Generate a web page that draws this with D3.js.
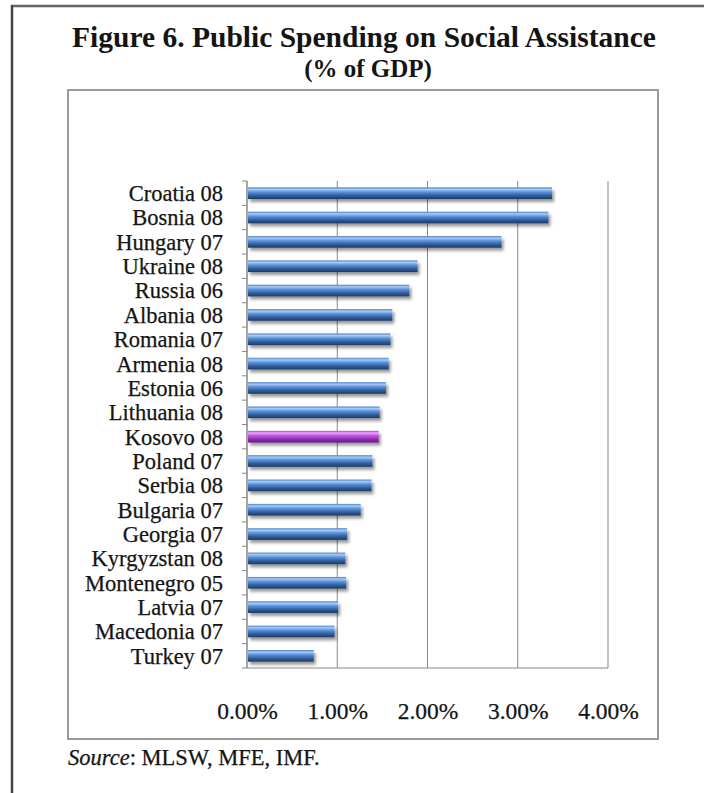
<!DOCTYPE html>
<html>
<head>
<meta charset="utf-8">
<script src="https://cdn.jsdelivr.net/npm/d3@7"></script>
<style>
  html, body { margin: 0; padding: 0; background: #fff; }
  svg { display: block; }
  text { font-family: "Liberation Serif", "Times New Roman", serif; fill: #141414; }
</style>
</head>
<body>
<div id="chart"></div>
<script>
"use strict";

const countries = [
    "Croatia 08", "Bosnia 08", "Hungary 07", "Ukraine 08", "Russia 06",
    "Albania 08", "Romania 07", "Armenia 08", "Estonia 06", "Lithuania 08",
    "Kosovo 08", "Poland 07", "Serbia 08", "Bulgaria 07", "Georgia 07",
    "Kyrgyzstan 08", "Montenegro 05", "Latvia 07", "Macedonia 07", "Turkey 07"
];
const spending = [
    3.38, 3.34, 2.82, 1.89, 1.80,
    1.61, 1.59, 1.57, 1.54, 1.47,
    1.46, 1.39, 1.38, 1.26, 1.11,
    1.09, 1.10, 1.01, 0.97, 0.74
];
const xTicks = [0, 1, 2, 3, 4];
const highlight = "Kosovo 08";

const W = 704, H = 793;
const plot = { left: 247, right: 608, top: 181, bottom: 668 };

const data = countries.map((c, i) => ({ name: c, value: spending[i] }));

const svg = d3.select("#chart").append("svg")
              .attr("width", W)
              .attr("height", H);

const defs = svg.append("defs");
const gradBlue = defs.append("linearGradient")
                     .attr("id", "gBlue")
                     .attr("x1", 0).attr("y1", 0).attr("x2", 0).attr("y2", 1);
[["0%", "#4f82c4"], ["18%", "#a6cbf6"], ["40%", "#5b93dc"], ["70%", "#325f9c"], ["100%", "#1c3a62"]]
    .forEach(s => gradBlue.append("stop").attr("offset", s[0]).attr("stop-color", s[1]));
const gradPurple = defs.append("linearGradient")
                       .attr("id", "gPurple")
                       .attr("x1", 0).attr("y1", 0).attr("x2", 0).attr("y2", 1);
[["0%", "#a845c8"], ["18%", "#eaa6fb"], ["40%", "#c458e4"], ["70%", "#9430b6"], ["100%", "#62167c"]]
    .forEach(s => gradPurple.append("stop").attr("offset", s[0]).attr("stop-color", s[1]));
defs.append("filter")
    .attr("id", "shadow")
    .attr("x", "-5%").attr("y", "-50%").attr("width", "115%").attr("height", "260%")
    .append("feDropShadow")
    .attr("dx", 2).attr("dy", 3)
    .attr("stdDeviation", 1.8)
    .attr("flood-color", "#000")
    .attr("flood-opacity", 0.4);

// outer page frame
svg.append("line")
   .attr("x1", 11).attr("x2", W).attr("y1", 6).attr("y2", 6)
   .attr("stroke", "#666").attr("stroke-width", 2.5);
svg.append("line")
   .attr("x1", 12).attr("x2", 12).attr("y1", 5).attr("y2", H)
   .attr("stroke", "#444").attr("stroke-width", 2.5);

// title
svg.append("text")
   .attr("x", 364).attr("y", 47)
   .attr("text-anchor", "middle")
   .style("font-size", "29.5px").style("font-weight", "bold")
   .text("Figure 6. Public Spending on Social Assistance");
svg.append("text")
   .attr("x", 368).attr("y", 77)
   .attr("text-anchor", "middle")
   .style("font-size", "25px").style("font-weight", "bold")
   .text("(% of GDP)");

// chart box
svg.append("rect")
   .attr("x", 68).attr("y", 90).attr("width", 590).attr("height", 649)
   .attr("fill", "#fff")
   .attr("stroke", "#9a9a9a").attr("stroke-width", 2);

const xScale = d3.scaleLinear()
                 .domain([0, 4])
                 .range([plot.left, plot.right]);
const yScale = d3.scaleBand()
                 .domain(countries)
                 .range([plot.top, plot.bottom])
                 .paddingInner(0.52)
                 .paddingOuter(0.26);

// gridlines
svg.append("g")
   .selectAll("line")
   .data(xTicks.filter(t => t > 0))
   .join("line")
   .attr("x1", d => xScale(d)).attr("x2", d => xScale(d))
   .attr("y1", plot.top).attr("y2", plot.bottom)
   .attr("stroke", d => d === 4 ? "#c4c4c4" : "#888")
   .attr("stroke-width", d => d === 4 ? 2 : 1);

// bottom axis line
svg.append("line")
   .attr("x1", plot.left).attr("x2", plot.right)
   .attr("y1", plot.bottom).attr("y2", plot.bottom)
   .attr("stroke", "#888").attr("stroke-width", 1);

// left axis with ticks between categories
const step = yScale.step();
const boundaries = countries.map(c => yScale(c) - step * yScale.paddingInner() / 2)
                            .concat([plot.bottom]);
svg.append("line")
   .attr("x1", plot.left).attr("x2", plot.left)
   .attr("y1", plot.top).attr("y2", plot.bottom)
   .attr("stroke", "#888").attr("stroke-width", 1.5);
svg.append("g")
   .selectAll("line")
   .data(boundaries)
   .join("line")
   .attr("x1", plot.left - 5).attr("x2", plot.left)
   .attr("y1", d => d).attr("y2", d => d)
   .attr("stroke", "#888").attr("stroke-width", 1);

// bars
svg.append("g")
   .attr("class", "bars")
   .selectAll("rect")
   .data(data)
   .join("rect")
   .attr("x", xScale(0) + 1)
   .attr("y", d => yScale(d.name))
   .attr("width", d => xScale(d.value) - xScale(0) - 1)
   .attr("height", yScale.bandwidth())
   .attr("fill", d => d.name === highlight ? "url(#gPurple)" : "url(#gBlue)")
   .attr("filter", "url(#shadow)");

// category labels
svg.append("g")
   .selectAll("text")
   .data(data)
   .join("text")
   .attr("x", 223)
   .attr("y", d => yScale(d.name) + yScale.bandwidth() / 2)
   .attr("dy", "0.35em")
   .attr("text-anchor", "end")
   .attr("stroke", "#141414").attr("stroke-width", 0.25)
   .style("font-size", "22.5px")
   .text(d => d.name);

// x axis labels
const xAxis = svg.append("g")
                 .attr("transform", `translate(0, ${plot.bottom})`)
                 .call(d3.axisBottom(xScale)
                         .tickValues(xTicks)
                         .tickSize(0)
                         .tickPadding(34)
                         .tickFormat(d => d.toFixed(2) + "%"));
xAxis.select(".domain").remove();
xAxis.selectAll("text")
     .style("font-size", "23.5px")
     .style("font-family", "\"Liberation Serif\", \"Times New Roman\", serif")
     .attr("fill", "#141414")
     .attr("stroke", "#141414").attr("stroke-width", 0.25);

// source note
const src = svg.append("text")
               .attr("x", 68).attr("y", 765)
               .attr("stroke", "#141414").attr("stroke-width", 0.25)
               .style("font-size", "22.5px");
src.append("tspan").style("font-style", "italic").text("Source");
src.append("tspan").text(": MLSW, MFE, IMF.");
</script>
</body>
</html>
